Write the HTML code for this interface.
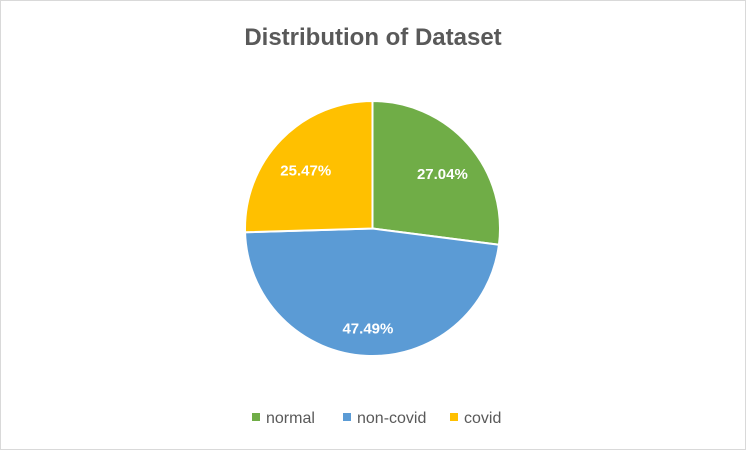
<!DOCTYPE html>
<html><head><meta charset="utf-8"><style>
body{margin:0;width:746px;height:450px;background:#fff;overflow:hidden;font-family:"Liberation Sans",sans-serif}
#frame{position:absolute;left:0;top:0;width:744px;height:448px;border:1px solid #d9d9d9}
</style></head><body>
<div id="frame"></div>
<svg id="c" width="746" height="450" style="position:absolute;left:0;top:0">
<text x="373" y="45" text-anchor="middle" font-size="24" font-weight="bold" fill="#595959">Distribution of Dataset</text>
</svg>
<script>
const categories=["normal","non-covid","covid"];
const values=[27.04,47.49,25.47];
const labels=["27.04%","47.49%","25.47%"];
const colors=["#70AD47","#5B9BD5","#FFC000"];
const svg=document.getElementById('c');const NS="http://www.w3.org/2000/svg";
const cx=372.5,cy=228.5,R=127.5;
const total=values.reduce((a,b)=>a+b,0);
let a0=0;
function pt(a,r){return [cx+r*Math.sin(a),cy-r*Math.cos(a)];}
values.forEach((v,i)=>{
  const a1=a0+v/total*2*Math.PI;
  const p0=pt(a0,R),p1=pt(a1,R);
  const p=document.createElementNS(NS,'path');
  p.setAttribute('d',`M${cx},${cy}L${p0[0]},${p0[1]}A${R},${R} 0 ${a1-a0>Math.PI?1:0} 1 ${p1[0]},${p1[1]}Z`);
  p.setAttribute('fill',colors[i]);p.setAttribute('stroke','#fff');p.setAttribute('stroke-width','2');
  
  
  svg.appendChild(p);
  const m=(a0+a1)/2;const lp=pt(m,R*0.73);
  const t=document.createElementNS(NS,'text');
  t.setAttribute('x',lp[0]);t.setAttribute('y',lp[1]+12);t.setAttribute('text-anchor','middle');
  t.setAttribute('font-size','15');t.setAttribute('font-weight','bold');t.setAttribute('fill','#fff');
  t.textContent=labels[i];
  
  
  svg.appendChild(t);
  a0=a1;
});
const lx=[252,343,450];
categories.forEach((c,i)=>{
  const r=document.createElementNS(NS,'rect');
  r.setAttribute('x',lx[i]);r.setAttribute('y',413);r.setAttribute('width',8);r.setAttribute('height',8);r.setAttribute('fill',colors[i]);
  
  
  svg.appendChild(r);
  const t=document.createElementNS(NS,'text');
  t.setAttribute('x',lx[i]+14);t.setAttribute('y',423);t.setAttribute('font-size','16');t.setAttribute('fill','#595959');
  t.textContent=c;
  
  
  svg.appendChild(t);
});
</script>
</body></html>
